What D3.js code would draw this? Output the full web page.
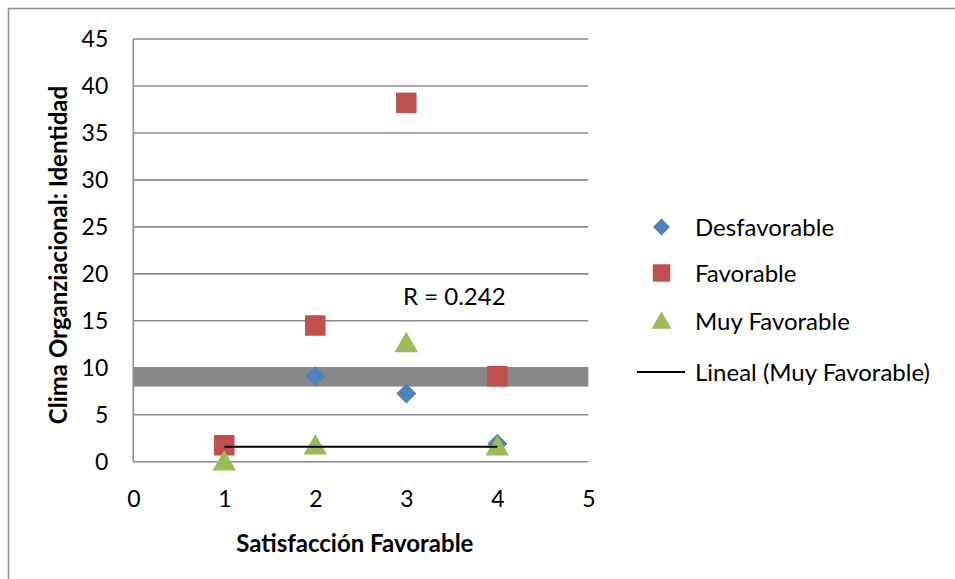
<!DOCTYPE html>
<html>
<head>
<meta charset="utf-8">
<script src="https://cdn.jsdelivr.net/npm/d3@7"></script>
<style>
  html, body { margin: 0; padding: 0; background: #fff; }
  svg { display: block; font-family: Lato, "Open Sans", sans-serif; }
</style>
</head>
<body>
<svg id="chart" width="955" height="579"></svg>
<script>
// Satisfacción (x) vs Clima Organizacional: Identidad (y)
const xValues = [1, 2, 3, 4];
const desfavorable = [null, 9.1, 7.25, 1.9];
const favorable = [1.75, 14.5, 38.2, 9.1];
const muyFavorable = [0, 1.7, 12.6, 1.6];

// Linear trend for "Muy Favorable" as drawn
const trendX = [1, 4];
const trendY = [1.6, 1.6];
const trendLabel = "R = 0.242";

// Shaded reference band on the value axis
const bandRange = [8, 10];

const xTicks = [0, 1, 2, 3, 4, 5];
const yTicks = [0, 5, 10, 15, 20, 25, 30, 35, 40, 45];

const seriesNames = ["Desfavorable", "Favorable", "Muy Favorable"];
const trendName = "Lineal (Muy Favorable)";
const xTitle = "Satisfacción Favorable";
const yTitle = "Clima Organziacional: Identidad";

const colors = { Desfavorable: "#4F81BD", Favorable: "#C0504D", "Muy Favorable": "#9BBB59" };
const gridColor = "#8c8c8c";
const textSize = 24;
const tickSize = 23;

const svg = d3.select("#chart");

// chart frame
svg.append("rect")
  .attr("x", 8.5).attr("y", 8.5)
  .attr("width", 960).attr("height", 600)
  .attr("fill", "#fff").attr("stroke", "#8c8c8c").attr("stroke-width", 1.5);

const x = d3.scaleLinear().domain([0, 5]).range([133.3, 588.3]);
const y = d3.scaleLinear().domain([0, 45]).range([461.7, 39]);

// horizontal gridlines
svg.append("g").selectAll("line").data(yTicks).join("line")
  .attr("x1", x(0)).attr("x2", x(5))
  .attr("y1", d => y(d)).attr("y2", d => y(d))
  .attr("stroke", gridColor).attr("stroke-width", 1.6);

// shaded band
svg.append("rect")
  .attr("x", x(0)).attr("width", x(5) - x(0))
  .attr("y", y(bandRange[1])).attr("height", y(bandRange[0]) - y(bandRange[1]))
  .attr("fill", "#888888");

// value axis line
svg.append("line")
  .attr("x1", x(0)).attr("x2", x(0))
  .attr("y1", y(45)).attr("y2", y(0))
  .attr("stroke", gridColor).attr("stroke-width", 1.6);

// y axis labels
const yAxis = svg.append("g")
  .attr("transform", `translate(${x(0)},0)`)
  .call(d3.axisLeft(y).tickValues(yTicks).tickSize(0).tickPadding(25).tickFormat(d3.format("d")));
yAxis.select(".domain").remove();
yAxis.selectAll("text")
  .attr("font-family", "Lato, sans-serif").attr("font-size", tickSize).attr("fill", "#000");

// x axis labels
const xAxis = svg.append("g")
  .attr("transform", `translate(0,${y(0)})`)
  .call(d3.axisBottom(x).tickValues(xTicks).tickSize(0).tickPadding(29).tickFormat(d3.format("d")));
xAxis.select(".domain").remove();
xAxis.selectAll("text")
  .attr("font-family", "Lato, sans-serif").attr("font-size", tickSize).attr("fill", "#000");

// axis titles
svg.append("text")
  .attr("x", x(2.5) - 6).attr("y", 552)
  .attr("text-anchor", "middle")
  .attr("font-size", textSize).attr("font-weight", "bold")
  .text(xTitle);

svg.append("text")
  .attr("transform", `translate(67,255) rotate(-90)`)
  .attr("text-anchor", "middle")
  .attr("font-size", textSize).attr("font-weight", "bold")
  .text(yTitle);

// marker symbols
function markerPath(name, scale) {
  if (name === "Desfavorable") return d3.symbol().type(d3.symbolSquare).size(200 * scale * scale)();
  if (name === "Favorable") return d3.symbol().type(d3.symbolSquare).size(420 * scale * scale)();
  return d3.symbol().type(d3.symbolTriangle).size(240 * scale * scale)();
}
function markerTransform(name, cx, cy) {
  if (name === "Desfavorable") return `translate(${cx},${cy}) rotate(45)`;
  if (name === "Muy Favorable") return `translate(${cx},${cy + 2})`;
  return `translate(${cx},${cy})`;
}

const seriesData = [
  { name: "Desfavorable", values: desfavorable },
  { name: "Favorable", values: favorable },
  { name: "Muy Favorable", values: muyFavorable }
];

seriesData.forEach(s => {
  const pts = xValues.map((xv, i) => ({ x: xv, y: s.values[i] })).filter(p => p.y !== null);
  svg.append("g").selectAll("path").data(pts).join("path")
    .attr("d", markerPath(s.name, 1))
    .attr("transform", d => markerTransform(s.name, x(d.x), y(d.y)))
    .attr("fill", colors[s.name]);
});

// trend line
svg.append("line")
  .attr("x1", x(trendX[0])).attr("x2", x(trendX[1]))
  .attr("y1", y(trendY[0])).attr("y2", y(trendY[1]))
  .attr("stroke", "#000").attr("stroke-width", 2);

svg.append("text")
  .attr("x", 403).attr("y", 305)
  .attr("font-size", textSize).attr("fill", "#000")
  .text(trendLabel);

// legend
const legendRows = [
  { name: "Desfavorable", cy: 227 },
  { name: "Favorable", cy: 273 },
  { name: "Muy Favorable", cy: 321 },
  { name: trendName, cy: 372, line: true }
];
const legend = svg.append("g");
legendRows.forEach(r => {
  if (r.line) {
    legend.append("line")
      .attr("x1", 637).attr("x2", 685).attr("y1", r.cy).attr("y2", r.cy)
      .attr("stroke", "#000").attr("stroke-width", 2);
  } else {
    legend.append("path")
      .attr("d", markerPath(r.name, 0.85))
      .attr("transform", markerTransform(r.name, 661.5, r.cy))
      .attr("fill", colors[r.name]);
  }
  legend.append("text")
    .attr("x", 695).attr("y", r.cy)
    .attr("dy", "0.36em")
    .attr("font-size", textSize).attr("fill", "#000")
    .text(r.name);
});
</script>
</body>
</html>
